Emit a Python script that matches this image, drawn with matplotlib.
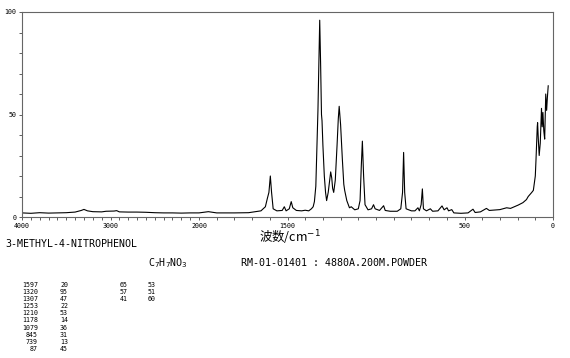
import numpy as np
import matplotlib
matplotlib.use("Agg")
import matplotlib.pyplot as plt

plt.rcParams['font.family'] = ['DejaVu Sans Mono', 'Noto Sans CJK SC']

# spectrum trace (wavenumber cm-1, intensity)
wavenumber = [4000, 3900, 3800, 3700, 3600, 3500, 3400, 3330, 3300, 3260, 3200, 3100,
              3050, 2960, 2930, 2900, 2800, 2700, 2600, 2500, 2400, 2300, 2200, 2100,
              2000, 1947, 1900, 1800, 1720, 1690, 1650, 1625, 1614, 1605, 1597, 1590,
              1581, 1560, 1530, 1518, 1508, 1490, 1479, 1470, 1450, 1420, 1400, 1380,
              1365, 1355, 1348, 1340, 1336, 1328, 1322, 1318, 1313, 1308, 1305, 1300,
              1292, 1285, 1279, 1270, 1256, 1250, 1245, 1239, 1230, 1220, 1213, 1208,
              1200, 1190, 1182, 1177, 1165, 1150, 1140, 1120, 1100, 1090, 1083, 1077,
              1070, 1062, 1045, 1025, 1014, 1005, 980, 957, 948, 920, 880, 860,
              850, 844, 838, 830, 800, 780, 763, 755, 745, 738, 732, 715,
              693, 680, 650, 627, 615, 599, 590, 572, 560, 520, 480, 452,
              440, 410, 376, 360, 320, 300, 262, 240, 197, 170, 150, 140,
              120, 111, 100, 96, 92, 89, 87, 83, 78, 72, 65, 61,
              57, 52, 47, 41, 36, 32, 27]
intensity = [2.0, 1.8, 2.1, 1.9, 2.0, 2.1, 2.4, 3.2, 3.7, 3.0, 2.6, 2.5,
             2.8, 2.9, 3.1, 2.5, 2.4, 2.4, 2.3, 2.1, 2.0, 2.0, 1.9, 2.0,
             2.0, 2.6, 2.0, 2.0, 2.1, 2.5, 3.0, 5.0, 9.0, 12.0, 20.0, 12.0,
             4.0, 3.0, 3.2, 5.0, 3.0, 4.0, 7.5, 4.5, 3.2, 3.0, 3.3, 3.0,
             4.0, 5.0, 7.5, 15.0, 28.0, 52.0, 80.0, 96.0, 75.0, 50.0, 47.0, 35.0,
             20.0, 12.0, 8.0, 12.0, 22.0, 19.0, 14.0, 12.0, 18.0, 35.0, 48.0, 54.0,
             45.0, 28.0, 16.0, 13.0, 8.0, 4.5, 5.0, 3.5, 4.0, 8.0, 25.0, 37.0,
             20.0, 6.0, 3.5, 4.0, 6.0, 4.0, 3.2, 5.5, 3.2, 2.8, 2.8, 4.0,
             12.0, 31.5, 12.0, 4.0, 3.0, 3.0, 4.5, 3.0, 6.0, 13.7, 4.0, 3.0,
             4.0, 2.8, 3.0, 5.4, 3.5, 4.5, 3.0, 3.6, 2.0, 1.8, 2.0, 3.8,
             2.2, 2.5, 4.2, 3.2, 3.5, 3.6, 4.5, 4.2, 5.8, 7.0, 8.5, 10.0,
             12.0, 13.0, 20.0, 28.0, 38.0, 44.0, 46.0, 38.0, 30.0, 36.0, 53.0, 44.0,
             51.0, 42.0, 38.0, 60.0, 52.0, 58.0, 64.0]

xtick_vals = [4000, 3000, 2000, 1500, 500, 0]
xtick_labels = ['4000', '3000', '2000', '1500', '500', '0']
ytick_vals = [0, 50, 100]

peak_pos = ['1597', '1320', '1307', '1253', '1210', '1178', '1079', '845', '739', '87']
peak_int = ['20', '95', '47', '22', '53', '14', '36', '31', '13', '45']
peak_pos2 = ['65', '57', '41']
peak_int2 = ['53', '51', '60']

compound = '3-METHYL-4-NITROPHENOL'
formula = 'C$_7$H$_7$NO$_3$'
sample = 'RM-01-01401 : 4880A.200M.POWDER'


# 4000-2000 at half the scale of 2000-0
def fwd(w):
    w = np.asarray(w, dtype=float)
    return np.where(w <= 2000, w, 2000 + (w - 2000) / 2)


def inv(u):
    u = np.asarray(u, dtype=float)
    return np.where(u <= 2000, u, 2000 + (u - 2000) * 2)


W, H = 570, 358
fig = plt.figure(figsize=(W / 100, H / 100), dpi=100)


def px(x, y):
    return x / W, 1 - y / H


ax = fig.add_axes([22 / W, 1 - 217 / H, (553 - 22) / W, (217 - 12) / H])
ax.set_xscale('function', functions=(fwd, inv))
ax.plot(wavenumber, intensity, color='black', lw=0.8)
ax.set_xlim(4000, 0)
ax.set_ylim(0, 100)

ax.set_xticks(xtick_vals)
ax.set_xticklabels(xtick_labels)
ax.set_xticks(np.arange(0, 4001, 100), minor=True)
ax.set_yticks(ytick_vals)
ax.set_yticks(np.arange(0, 101, 10), minor=True)
ax.tick_params(which='both', direction='out', length=2.5, width=0.6,
               color='#444444', labelsize=4.8, pad=1.5)
for s in ax.spines.values():
    s.set_color('#666666')
    s.set_linewidth(0.8)

fig.text(*px(290, 238), '波数/cm$^{-1}$', family=['Noto Sans CJK SC', 'DejaVu Sans'],
         fontsize=9, ha='center', va='center')
fig.text(*px(5, 244), compound, fontsize=7.2, va='center')
fig.text(*px(148, 263), formula, fontsize=7.2, va='center')
fig.text(*px(241, 263), sample, fontsize=7.2, va='center')

for i in range(len(peak_pos)):
    y = 285 + i * 7.1
    fig.text(*px(38, y), peak_pos[i], fontsize=4.8, ha='right', va='center')
    fig.text(*px(60, y), peak_int[i], fontsize=4.8, va='center')
for i in range(len(peak_pos2)):
    y = 285 + i * 7.1
    fig.text(*px(128, y), peak_pos2[i], fontsize=4.8, ha='right', va='center')
    fig.text(*px(148, y), peak_int2[i], fontsize=4.8, va='center')

fig.savefig('out.png', dpi=100)
